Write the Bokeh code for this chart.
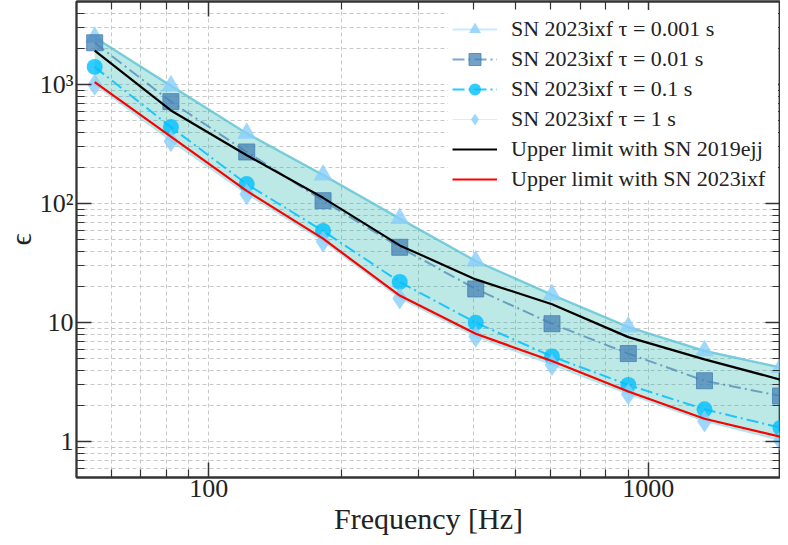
from bokeh.plotting import figure
from bokeh.models import Range1d, FixedTicker, LogAxis, Legend, LegendItem
from bokeh.embed import file_html
from bokeh.resources import INLINE

# ---- data ----
freq = [55, 82, 122, 182, 272, 405, 604, 901, 1343, 2000]
eps_tau_0001 = [2500, 980, 390, 174, 75, 33, 17.2, 9.2, 5.8, 4.2]
eps_tau_001 = [2250, 720, 272, 106, 43, 19.2, 9.8, 5.5, 3.25, 2.42]
eps_tau_01 = [1410, 440, 146, 59, 22, 10.0, 5.2, 3.0, 1.87, 1.31]
eps_tau_1 = [1000, 335, 120, 48, 16.0, 7.6, 4.4, 2.5, 1.48, 1.02]
ul_2019ejj = [1930, 607, 255, 112, 44.6, 23.1, 14.3, 7.56, 4.92, 3.32]
ul_2023ixf = [1050, 366, 128, 50.8, 16.9, 8.07, 4.76, 2.64, 1.56, 1.10]

labels = [
    "SN 2023ixf τ = 0.001 s",
    "SN 2023ixf τ = 0.01 s",
    "SN 2023ixf τ = 0.1 s",
    "SN 2023ixf τ = 1 s",
    "Upper limit with SN 2019ejj",
    "Upper limit with SN 2023ixf",
]

x_major = [100, 1000]
x_minor = [50, 60, 70, 80, 90, 200, 300, 400, 500, 600, 700, 800, 900, 2000]
x_tick_labels = {100: "100", 1000: "1000"}
y_major = [1, 10, 100, 1000]
y_minor = [0.5, 0.6, 0.7, 0.8, 0.9] + [m * 10 ** e for e in range(0, 4) for m in range(2, 10)]
y_tick_labels = {1: "1", 10: "10", 100: "10²", 1000: "10³"}

FONT = "Liberation Serif"

p = figure(width=780, height=537, x_axis_type="log", y_axis_type="log",
           x_range=Range1d(50, 2000), y_range=Range1d(0.5, 5000),
           output_backend="svg", toolbar_location=None,
           min_border_left=60, min_border_right=0, min_border_top=1, min_border_bottom=50)
p.outline_line_color = "#333333"
p.outline_line_width = 1.8
p.background_fill_color = "white"

xt = FixedTicker(ticks=x_major, minor_ticks=x_minor)
yt = FixedTicker(ticks=y_major, minor_ticks=y_minor)

def style_axis(ax, show_labels):
    ax.axis_line_color = "#333333"
    ax.axis_line_width = 1.8
    ax.major_tick_in = 15
    ax.major_tick_out = 0
    ax.minor_tick_in = 8
    ax.minor_tick_out = 0
    ax.major_tick_line_color = "#333333"
    ax.minor_tick_line_color = "#333333"
    ax.major_tick_line_width = 1.5
    ax.minor_tick_line_width = 1.2
    if show_labels:
        ax.major_label_text_font = FONT
        ax.major_label_text_font_size = "26px"
        ax.major_label_text_color = "#222222"
    else:
        ax.major_label_text_font_size = "1px"
        ax.major_label_text_alpha = 0
        ax.major_label_standoff = 0

xa = p.xaxis[0]
xa.ticker = xt
xa.major_label_overrides = x_tick_labels
style_axis(xa, True)
xa.major_label_standoff = 2
xa.axis_label = "Frequency [Hz]"
xa.axis_label_text_font = FONT
xa.axis_label_text_font_style = "normal"
xa.axis_label_text_font_size = "30px"
xa.axis_label_text_color = "#222222"
xa.axis_label_standoff = 2

ya = p.yaxis[0]
ya.ticker = yt
ya.major_label_overrides = y_tick_labels
style_axis(ya, True)
ya.major_label_standoff = 3
ya.axis_label = "ϵ"
ya.axis_label_text_font = FONT
ya.axis_label_text_font_style = "normal"
ya.axis_label_text_font_size = "30px"
ya.axis_label_text_color = "#222222"
ya.axis_label_standoff = 0

top = LogAxis(ticker=xt)
style_axis(top, False)
p.add_layout(top, "above")
right = LogAxis(ticker=yt)
style_axis(right, False)
p.add_layout(right, "right")

for g in (p.xgrid[0], p.ygrid[0]):
    g.grid_line_color = "#c8c8c8"
    g.grid_line_dash = "4 3"
    g.grid_line_width = 1
    g.minor_grid_line_color = "#c8c8c8"
    g.minor_grid_line_dash = "4 3"
    g.minor_grid_line_width = 1
p.xgrid[0].ticker = xt
p.ygrid[0].ticker = yt

# band between tau = 0.001 s and tau = 1 s
p.varea(x=freq, y1=eps_tau_1, y2=eps_tau_0001, fill_color="lightseagreen", fill_alpha=0.3)
p.line(freq, eps_tau_0001, line_color="lightseagreen", line_alpha=0.6, line_width=2.2)

l1 = p.line(freq, eps_tau_0001, line_color="lightskyblue", line_alpha=0.45, line_width=2)
m1 = p.scatter(freq, eps_tau_0001, marker="triangle", size=19, fill_color="lightskyblue",
               fill_alpha=0.8, line_color=None)
l2 = p.line(freq, eps_tau_001, line_color="steelblue", line_alpha=0.7, line_width=2,
            line_dash="12 4 2 4")
m2 = p.scatter(freq, eps_tau_001, marker="square", size=16, fill_color="steelblue",
               fill_alpha=0.75, line_color="steelblue", line_alpha=0.8)
l3 = p.line(freq, eps_tau_01, line_color="deepskyblue", line_alpha=0.85, line_width=2,
            line_dash="12 4 2 4")
m3 = p.scatter(freq, eps_tau_01, marker="circle", size=16, fill_color="deepskyblue",
               fill_alpha=0.8, line_color=None)
l4 = p.line(freq, eps_tau_1, line_color="lightskyblue", line_alpha=0.35, line_width=1.2)
m4 = p.scatter(freq, eps_tau_1, marker="diamond", size=22, fill_color="lightskyblue",
               fill_alpha=0.8, line_color=None)

l5 = p.line(freq, ul_2019ejj, line_color="black", line_width=2.2)
l6 = p.line(freq, ul_2023ixf, line_color="red", line_width=2.2)

items = [
    LegendItem(label=labels[0], renderers=[l1, m1]),
    LegendItem(label=labels[1], renderers=[l2, m2]),
    LegendItem(label=labels[2], renderers=[l3, m3]),
    LegendItem(label=labels[3], renderers=[l4, m4]),
    LegendItem(label=labels[4], renderers=[l5]),
    LegendItem(label=labels[5], renderers=[l6]),
]
legend = Legend(items=items, location=(372, 279))
legend.margin = 0
legend.padding = 4
legend.spacing = 0
legend.glyph_width = 45
legend.glyph_height = 30
legend.label_height = 26
legend.label_width = 263
legend.label_standoff = 14
legend.label_text_font = FONT
legend.label_text_font_size = "22px"
legend.label_text_color = "#222222"
legend.border_line_alpha = 0
legend.background_fill_color = "white"
legend.background_fill_alpha = 1
p.add_layout(legend)

open("out.html", "w").write(file_html(p, INLINE))
